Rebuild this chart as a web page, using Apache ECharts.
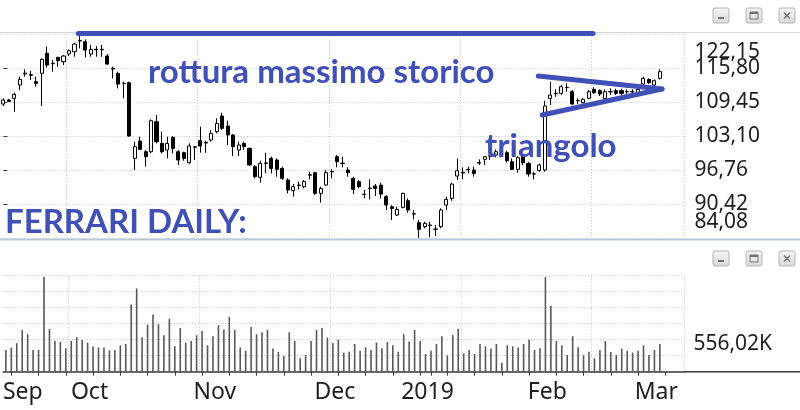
<!DOCTYPE html>
<html><head><meta charset="utf-8">
<script src="https://cdn.jsdelivr.net/npm/echarts@6/dist/echarts.min.js"></script>
<style>html,body{margin:0;padding:0;background:#fff}#c{width:800px;height:410px}</style>
</head><body><div id="c"></div>
<script>
// ---- calendar (Borsa Italiana trading days) ----
const closedDays = ['2018-12-24','2018-12-25','2018-12-26','2018-12-31','2019-01-01'];
const firstDay = '2018-09-07';
const lastAxisDay = '2019-03-07';
function buildTradingDays(startStr, endStr, closed) {
  const out = [];
  const d = new Date(startStr + 'T00:00:00Z');
  const end = new Date(endStr + 'T00:00:00Z');
  while (d <= end) {
    const dow = d.getUTCDay();
    const s = d.toISOString().slice(0, 10);
    if (dow !== 0 && dow !== 6 && closed.indexOf(s) < 0) out.push(s);
    d.setUTCDate(d.getUTCDate() + 1);
  }
  return out;
}
const dates = buildTradingDays(firstDay, lastAxisDay, closedDays);
const monthNames = ['Jan','Feb','Mar','Apr','May','Jun','Jul','Aug','Sep','Oct','Nov','Dec'];

// ---- OHLC ----
const priceOpen = [109.08,109.83,110.14,112.63,114.70,114.55,113.25,114.80,118.54,116.60,
117.79,116.98,118.41,118.85,120.84,120.71,118.41,119.30,119.20,118.04,
115.74,114.80,112.90,113.06,98.94,102.18,100.18,100.18,105.78,101.74,
100.50,102.86,100.18,100.00,98.13,101.00,102.24,101.80,102.36,103.92,
106.84,104.97,103.30,100.50,101.74,100.81,97.39,95.40,98.00,98.94,
98.63,97.07,94.90,92.91,93.90,93.65,95.80,96.27,92.41,93.96,
96.45,99.25,98.00,96.76,95.21,94.59,92.20,93.30,93.78,93.96,
91.79,89.90,88.36,89.80,91.04,88.60,86.93,86.19,86.50,85.70,
86.19,90.23,91.48,95.64,96.20,96.80,96.76,98.05,98.75,99.35,
99.56,99.75,100.00,98.32,96.89,99.38,98.01,96.00,96.64,96.76,
110.14,111.00,111.07,112.20,111.38,109.70,109.33,110.14,111.82,111.57,
110.14,111.35,111.57,111.57,111.35,111.40,111.20,112.81,113.68,112.63,
113.87];
const priceClose = [109.83,109.58,110.88,113.68,114.85,114.45,112.94,117.42,116.36,116.70,
117.17,118.04,119.03,120.28,120.92,119.16,119.28,119.20,119.30,116.54,
115.60,112.81,112.95,103.11,101.12,100.62,99.25,105.97,102.05,100.18,
101.74,100.81,98.63,98.94,101.24,101.10,101.24,101.95,103.61,105.47,
104.54,103.30,101.12,101.43,101.12,97.70,95.52,98.01,98.10,97.07,
96.89,95.21,93.03,93.65,93.95,94.59,95.90,92.41,93.34,96.27,
96.50,98.32,98.05,96.27,93.16,93.65,92.25,93.40,93.34,92.28,
90.23,89.60,89.42,92.41,89.30,88.55,85.69,86.81,86.45,85.75,
89.30,91.29,94.15,96.64,96.30,96.90,96.14,98.15,99.25,99.42,
100.18,99.80,98.50,96.89,99.06,98.13,96.02,96.05,97.70,108.71,
110.76,111.10,112.32,112.15,109.08,109.75,109.95,111.38,111.20,110.95,
111.38,111.40,111.07,111.07,111.40,111.35,111.82,113.87,113.06,113.43,
115.12];
const priceLow = [108.71,109.45,107.65,111.69,114.18,113.56,112.32,108.71,115.92,115.12,
116.05,116.36,118.04,117.91,119.47,117.79,117.91,117.91,117.91,116.42,
113.87,112.00,110.14,102.98,96.76,100.50,97.39,99.87,101.74,99.87,
98.94,99.87,97.70,98.50,97.88,98.63,100.00,100.00,102.05,103.61,
104.23,101.43,99.38,99.38,100.50,97.51,95.21,94.40,96.14,96.14,
95.52,94.90,92.41,91.79,93.16,93.34,95.02,92.10,90.67,93.78,
95.21,97.26,97.26,95.52,92.28,93.34,91.48,91.29,91.91,91.48,
89.30,87.43,88.18,89.61,88.80,87.56,84.10,85.88,84.20,84.45,
85.88,89.30,91.04,94.90,95.02,96.14,95.52,97.70,97.70,98.63,
99.13,99.13,98.13,96.76,96.27,97.70,95.52,95.02,96.45,96.45,
108.89,110.45,110.76,111.38,108.89,109.08,109.20,109.95,110.95,110.57,
109.95,110.76,110.76,110.76,110.95,110.95,110.95,112.63,112.81,112.44,
113.68];
const priceHigh = [110.14,110.01,111.20,114.18,115.55,115.30,114.18,117.60,119.78,117.29,
117.91,118.22,119.28,120.53,121.77,121.15,120.09,119.90,120.09,118.41,
116.05,115.12,113.25,113.25,102.05,102.98,100.50,106.22,107.03,103.92,
102.98,103.11,100.50,100.18,101.74,101.24,104.85,102.24,104.23,106.41,
107.46,105.97,103.48,102.05,102.05,100.99,97.70,98.50,100.00,99.25,
98.94,97.39,95.21,94.15,94.59,94.90,96.45,96.45,93.65,96.76,
96.89,99.56,99.25,97.26,95.52,94.90,93.03,95.02,94.15,94.40,
92.10,90.23,89.92,92.53,91.48,89.30,87.43,87.12,87.12,86.50,
89.61,91.79,94.40,98.94,97.26,97.39,97.39,98.75,99.38,99.75,
100.62,100.37,100.37,98.94,99.38,99.75,98.32,96.45,98.01,109.70,
113.25,111.82,112.63,112.94,111.69,110.14,110.26,111.69,112.19,111.82,
111.82,112.00,111.94,111.94,111.82,111.82,112.19,114.18,113.87,113.68,
115.55];

// ---- volume, thousands of shares ----
const volumeK = [435,482,569,836,749,435,435,1893,856,615,
595,468,615,689,636,582,502,482,482,428,
435,529,555,1345,1666,689,943,1144,950,729,
1057,508,876,582,615,729,816,529,709,930,
843,1097,836,482,421,896,749,789,836,462,
395,314,789,615,268,335,615,836,876,682,
575,636,381,401,555,421,488,435,582,468,
595,529,401,749,602,836,615,355,421,555,
709,328,736,856,368,435,355,555,508,462,
555,181,529,508,482,555,642,435,468,1893,
1318,615,529,335,709,488,328,401,268,435,
615,395,335,462,421,381,421,529,335,435,
556.02];

// ---- axis tick labels ----
const priceTicks = [84.08, 90.42, 96.76, 103.10, 109.45, 115.80, 122.15];
const priceInterval = 6.345;
const volumeMax = 1920, volumeInterval = 320;

// ---- hand-drawn annotations (data coordinates: bar index, price) ----
const resistanceLine = [[13.7, 122.24], [107.8, 122.24]];
const triangleUpper = [[97.8, 114.31], [120.4, 111.88]];
const triangleLower = [[98.5, 107.03], [120.4, 111.88]];

const candles = priceOpen.map((o, i) => [o, priceClose[i], priceLow[i], priceHigh[i]]);
const fmtNum = v => v.toFixed(2).replace('.', ',');

function dow(s) { return new Date(s + 'T00:00:00Z').getUTCDay(); }
function dayNum(s) { return Date.parse(s + 'T00:00:00Z') / 86400000; }
function isWeekStart(i) {
  if (i === 0) return false;
  return dow(dates[i]) < dow(dates[i - 1]) || dayNum(dates[i]) - dayNum(dates[i - 1]) >= 7;
}
function isMonthStart(i) {
  return i === 0 || dates[i].slice(5, 7) !== dates[i - 1].slice(5, 7);
}
function monthLabel(v, i) {
  const m = parseInt(v.slice(5, 7), 10) - 1;
  const txt = m === 0 ? v.slice(0, 4) : monthNames[m];
  return i === 0 ? '{f|' + txt + '}' : '{m|' + txt + '}';
}
function nearestTick(v) {
  let best = 0;
  priceTicks.forEach((t, k) => { if (Math.abs(t - v) < Math.abs(priceTicks[best] - v)) best = k; });
  return best;
}
const lastTick = priceTicks.length - 1;

const BLUE = '#4150b6';
const FONT = '"Noto Sans", "Open Sans", sans-serif';
const dotted = { color: '#c4c4c4', type: [1, 2], width: 1 };
const gridLeft = 0.6, gridWidth = 683.8;
const labelStyle = { fontFamily: FONT, fontSize: 21, color: '#1e1e1e' };

function button(x, y, kind) {
  const children = [{
    type: 'rect', shape: { x: 0, y: 0, width: 16, height: 15, r: 2 },
    style: { fill: { type: 'linear', x: 0, y: 0, x2: 0, y2: 1, colorStops: [{ offset: 0, color: '#f6f6f6' }, { offset: 1, color: '#d9d9d9' }] }, stroke: '#b4b4b4', lineWidth: 1 }
  }];
  if (kind === 'min') children.push({ type: 'rect', shape: { x: 5, y: 9, width: 6, height: 2 }, style: { fill: '#707070' } });
  if (kind === 'max') {
    children.push({ type: 'rect', shape: { x: 4, y: 4, width: 8, height: 7 }, style: { fill: 'none', stroke: '#707070', lineWidth: 1 } });
    children.push({ type: 'rect', shape: { x: 4, y: 4, width: 8, height: 2 }, style: { fill: '#707070' } });
  }
  if (kind === 'close') {
    children.push({ type: 'line', shape: { x1: 5, y1: 4.5, x2: 11, y2: 10.5 }, style: { stroke: '#707070', lineWidth: 1.4 } });
    children.push({ type: 'line', shape: { x1: 11, y1: 4.5, x2: 5, y2: 10.5 }, style: { stroke: '#707070', lineWidth: 1.4 } });
  }
  return { type: 'group', x: x, y: y, children: children, z: 50 };
}

const chart = echarts.init(document.getElementById('c'), null, { renderer: 'canvas' });
const lastVol = volumeK[volumeK.length - 1];

const priceAxisBase = {
  type: 'value', gridIndex: 0, position: 'right',
  min: priceTicks[0], max: priceTicks[lastTick], interval: priceInterval
};

chart.setOption({
  animation: false,
  backgroundColor: '#fff',
  grid: [
    { left: gridLeft, width: gridWidth, top: 34, height: 204 },
    { left: gridLeft, width: gridWidth, top: 275.7, height: 96 }
  ],
  xAxis: [
    { type: 'category', gridIndex: 0, data: dates, boundaryGap: true,
      axisLine: { show: false }, axisTick: { show: false }, axisLabel: { show: false },
      splitLine: { show: true, interval: i => i % 24 === 12, lineStyle: dotted } },
    { type: 'category', gridIndex: 1, data: dates, boundaryGap: true,
      axisLine: { show: true, lineStyle: { color: '#3a3a3a', width: 1.5 } },
      axisTick: { show: true, interval: i => isWeekStart(i), alignWithLabel: true, length: 4, lineStyle: { color: '#3a3a3a', width: 1 } },
      axisLabel: { show: true, interval: i => isMonthStart(i), formatter: monthLabel, margin: 9,
        rich: {
          f: { fontFamily: FONT, fontSize: 23, color: '#1e1e1e', padding: [0, 0, 0, 34] },
          m: { fontFamily: FONT, fontSize: 23, color: '#1e1e1e', padding: [0, 7, 0, 0] }
        } },
      splitLine: { show: true, interval: i => i % 24 === 12, lineStyle: dotted } },
    { type: 'value', gridIndex: 0, min: -0.5, max: dates.length - 0.5, show: false }
  ],
  yAxis: [
    // inner price ticks
    Object.assign({}, priceAxisBase, {
      axisLine: { show: false },
      axisTick: { show: true, length: 4, lineStyle: { color: '#3a3a3a' } },
      axisLabel: Object.assign({ margin: 10, showMinLabel: false, showMaxLabel: false,
        formatter: v => { const k = nearestTick(v); return (k === 0 || k === lastTick) ? '' : fmtNum(priceTicks[k]); } }, labelStyle),
      splitLine: { show: true, lineStyle: dotted } }),
    { type: 'value', gridIndex: 1, position: 'right', min: 0, max: volumeMax, interval: volumeInterval,
      axisLine: { show: false }, axisTick: { show: false }, axisLabel: { show: false },
      splitLine: { show: true, lineStyle: dotted } },
    // extreme price labels (shifted inward, as in the original)
    Object.assign({}, priceAxisBase, {
      axisLine: { show: false }, axisTick: { show: false }, splitLine: { show: false },
      axisLabel: Object.assign({ margin: 10, showMinLabel: true, showMaxLabel: true,
        formatter: v => {
          const k = nearestTick(v);
          if (k === lastTick) return '{t|' + fmtNum(priceTicks[k]) + '}';
          if (k === 0) return '{b|' + fmtNum(priceTicks[k]) + '}';
          return '';
        },
        rich: {
          t: Object.assign({ padding: [36, 0, 0, 0] }, labelStyle),
          b: Object.assign({ padding: [0, 0, 32, 0] }, labelStyle)
        } }, labelStyle) })
  ],
  series: [
    { type: 'candlestick', xAxisIndex: 0, yAxisIndex: 0, data: candles, barWidth: 3.6,
      itemStyle: { color: '#ffffff', color0: '#000000', borderColor: '#000000', borderColor0: '#000000', borderWidth: 1 } },
    { type: 'bar', xAxisIndex: 1, yAxisIndex: 1, data: volumeK, barWidth: 1.6,
      itemStyle: { color: '#585858' },
      markLine: { silent: true, symbol: ['none', 'none'], lineStyle: { color: 'rgba(0,0,0,0)', width: 1, type: 'solid' },
        data: [{ yAxis: lastVol }],
        label: Object.assign({ show: true, position: 'end', distance: 9, formatter: () => fmtNum(lastVol) + 'K' }, labelStyle) } },
    { type: 'line', xAxisIndex: 2, yAxisIndex: 0, data: resistanceLine, symbol: 'none', clip: false, silent: true, z: 10,
      lineStyle: { color: BLUE, width: 5, cap: 'round' } },
    { type: 'line', xAxisIndex: 2, yAxisIndex: 0, data: triangleUpper, symbol: 'none', clip: false, silent: true, z: 10,
      lineStyle: { color: BLUE, width: 5, cap: 'round' } },
    { type: 'line', xAxisIndex: 2, yAxisIndex: 0, data: triangleLower, symbol: 'none', clip: false, silent: true, z: 10,
      lineStyle: { color: BLUE, width: 5, cap: 'round' } },
    // empty series to bind the extreme-label axis
    { type: 'line', xAxisIndex: 2, yAxisIndex: 2, data: [], silent: true }
  ],
  graphic: [
    { type: 'line', shape: { x1: 0, y1: 32.5, x2: 800, y2: 32.5 }, style: { stroke: '#d4d4d4', lineWidth: 1 }, z: 1 },
    { type: 'line', shape: { x1: 0, y1: 239.5, x2: 800, y2: 239.5 }, style: { stroke: '#b7c8da', lineWidth: 2 }, z: 1 },
    { type: 'line', shape: { x1: 684, y1: 371.7, x2: 800, y2: 371.7 }, style: { stroke: '#3a3a3a', lineWidth: 1.5 }, z: 1 },
    button(713, 8, 'min'), button(746, 8, 'max'), button(779, 8, 'close'),
    button(713, 251, 'min'), button(746, 251, 'max'), button(779, 251, 'close'),
    { type: 'text', x: 148, y: 72, z: 60, style: { text: 'rottura massimo storico', font: 'bold 33px Lato, sans-serif', fill: BLUE, align: 'left', verticalAlign: 'middle' } },
    { type: 'text', x: 485, y: 146, z: 60, style: { text: 'triangolo', font: 'bold 33px Lato, sans-serif', fill: BLUE, align: 'left', verticalAlign: 'middle' } },
    { type: 'text', x: 5, y: 222, z: 60, style: { text: 'FERRARI DAILY:', font: 'bold 33px Lato, sans-serif', fill: BLUE, align: 'left', verticalAlign: 'middle' } }
  ]
});
</script>
</body></html>
